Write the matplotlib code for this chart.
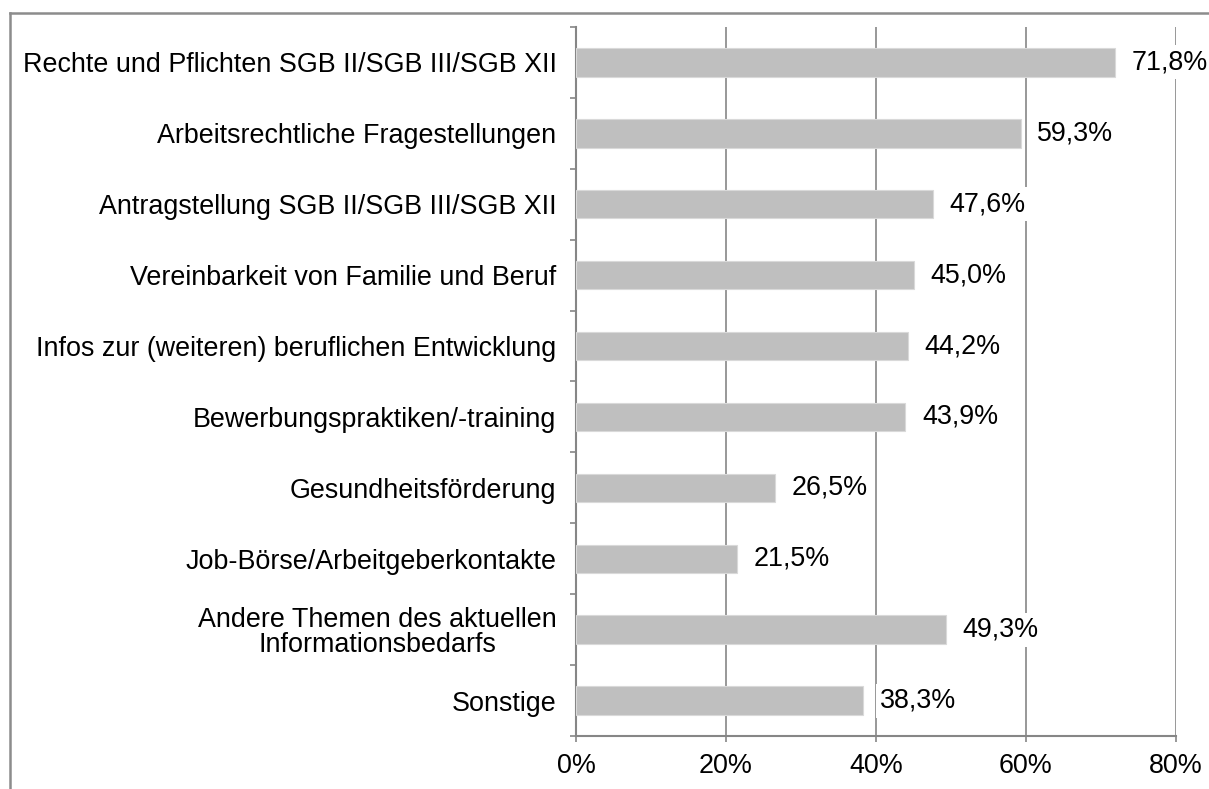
import numpy as np
import matplotlib
matplotlib.use('Agg')
import matplotlib.pyplot as plt
from matplotlib.lines import Line2D

plt.rcParams['font.family'] = ['Liberation Sans', 'DejaVu Sans']

categories = ['Rechte und Pflichten SGB II/SGB III/SGB XII',
              'Arbeitsrechtliche Fragestellungen',
              'Antragstellung SGB II/SGB III/SGB XII',
              'Vereinbarkeit von Familie und Beruf',
              'Infos zur (weiteren) beruflichen Entwicklung',
              'Bewerbungspraktiken/-training',
              'Gesundheitsförderung',
              'Job-Börse/Arbeitgeberkontakte',
              'Andere Themen des aktuellen\nInformationsbedarfs',
              'Sonstige']
values = [71.8, 59.3, 47.6, 45.0, 44.2, 43.9, 26.5, 21.5, 49.3, 38.3]
xticks = [0, 20, 40, 60, 80]

grid_col = '#868686'
fs = 19.4

fig = plt.figure(figsize=(12.09, 7.89), dpi=100)
ax = fig.add_axes([576/1209, 1-736/789, 600/1209, 709/789])

y = np.arange(len(categories))
ax.barh(y, values, height=0.4, color='#bfbfbf', edgecolor='#d9d9d9', linewidth=0.8, zorder=3)

for yi, v in zip(y, values):
    lbl = ('%.1f%%' % v).replace('.', ',')
    ax.annotate(lbl, (v, yi), xytext=(12, 0), textcoords='offset points',
                ha='left', va='center', fontsize=fs, zorder=4,
                bbox=dict(boxstyle='square,pad=0.15', fc='white', ec='none'))

ax.set_xlim(0, 80)
ax.set_ylim(len(categories) - 0.5, -0.5)
ax.set_xticks(xticks)
ax.set_xticklabels(['%d%%' % t for t in xticks], fontsize=fs)
ax.set_yticks(y)
ax.set_yticklabels(categories, fontsize=fs, multialignment='center', linespacing=0.95)
ax.set_yticks(np.arange(len(categories) + 1) - 0.5, minor=True)
ax.tick_params(axis='y', which='major', length=0, pad=14)
ax.tick_params(axis='y', which='minor', length=4.5, width=1.2, color=grid_col)
ax.tick_params(axis='x', length=4, width=1.2, color=grid_col, pad=8)

ax.grid(axis='x', color=grid_col, linewidth=1.2, zorder=0)
ax.set_axisbelow(True)
for s in ['top', 'right']:
    ax.spines[s].set_visible(False)
for s in ['left', 'bottom']:
    ax.spines[s].set_color(grid_col)
    ax.spines[s].set_linewidth(1.5)

# outer frame (top and left only)
fig.add_artist(Line2D([10/1209, 1], [1-13/789, 1-13/789], color='#8c8c8c', linewidth=1.8,
                      transform=fig.transFigure))
fig.add_artist(Line2D([10/1209, 10/1209], [0, 1-13/789], color='#8c8c8c', linewidth=1.8,
                      transform=fig.transFigure))

fig.savefig('out.png', dpi=100)
